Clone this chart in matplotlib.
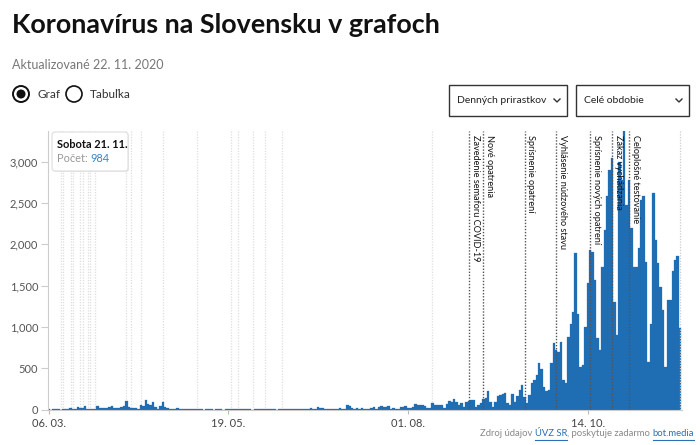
import matplotlib.pyplot as plt
import matplotlib.patches as mpatches
import pandas as pd

# ===============================
# DATA: denne prirastky (6. 3. 2020 - 21. 11. 2020)
# ===============================
marec = [1, 0, 2, 2, 2, 0, 11, 11, 11, 17, 9, 9, 25, 18, 14, 40, 8, 12, 12, 10,
         40, 23, 23, 22, 21, 27]
april = [37, 24, 21, 14, 35, 48, 100, 35, 14, 24, 14, 10, 60, 45, 117, 70, 60, 85,
         36, 4, 48, 90, 31, 20, 10, 9, 5, 13, 3, 5]
maj = [2, 6, 3, 6, 1, 2, 6, 4, 0, 3, 1, 5, 0, 1, 3, 4, 0, 1, 6, 2, 8, 11, 8, 3, 1,
       4, 1, 3, 0, 2, 3]
jun = [3, 2, 1, 11, 3, 6, 2, 0, 6, 4, 3, 1, 4, 1, 2, 6, 4, 2, 1, 4, 11, 16, 10, 5,
       30, 19, 18, 12, 7, 5]
jul = [8, 11, 4, 15, 5, 12, 53, 37, 20, 4, 13, 10, 22, 11, 4, 10, 14, 25, 6, 34,
       42, 36, 28, 38, 10, 24, 12, 8, 30, 26, 38]
august = [15, 15, 30, 63, 60, 55, 50, 45, 20, 15, 75, 55, 60, 55, 50, 15, 70, 103,
          90, 127, 95, 55, 75, 35, 87, 103, 115, 115, 35, 55, 83]
september = [127, 135, 228, 87, 34, 87, 164, 176, 184, 196, 75, 55, 184, 90, 164,
             234, 295, 150, 73, 175, 315, 356, 416, 557, 485, 275, 226, 234, 565, 800]
oktober = [720, 700, 820, 355, 315, 880, 1040, 1185, 1890, 1150, 509, 537, 1000,
           1530, 1930, 1900, 1570, 860, 720, 1730, 2175, 2578, 2900, 3040, 1305,
           900, 3000, 2780, 3365, 2475, 2780]
november = [2195, 1730, 1730, 1950, 2537, 2578, 1790, 578, 1040, 2620, 2050, 1770,
            1487, 1200, 509, 1325, 1325, 1670, 1810, 1858, 984]

pocty = marec + april + maj + jun + jul + august + september + oktober + november
dni = pd.date_range("2020-03-06", "2020-11-21", freq="D")

udalosti = ["2020-08-26", "2020-09-01", "2020-09-18", "2020-10-01",
            "2020-10-15", "2020-10-24", "2020-10-31"]
udalosti_texty = ["Zavedenie semaforu COVID-19", "Nové opatrenia",
                  "Sprísnenie opatrení", "Vyhlásenie núdzového stavu",
                  "Sprísnenie nových opatrení", "Zákaz vychádzania",
                  "Celoplošné testovanie"]
sive_udalosti = ["2020-03-11", "2020-03-12", "2020-03-15", "2020-03-16",
                 "2020-03-19", "2020-03-20", "2020-03-22", "2020-03-23",
                 "2020-03-25", "2020-04-07", "2020-04-09", "2020-04-13",
                 "2020-04-22", "2020-05-06", "2020-05-20", "2020-05-23",
                 "2020-05-29", "2020-06-03", "2020-06-10", "2020-08-11"]

ytick_hodnoty = [0, 500, 1000, 1500, 2000, 2500, 3000]
xtick_datumy = ["2020-03-06", "2020-05-19", "2020-08-01", "2020-10-14"]
xtick_texty = ["06. 03.", "19. 05.", "01. 08.", "14. 10."]

# ===============================
# STYL
# ===============================
plt.rcParams['font.family'] = ['Lato', 'DejaVu Sans']
MODRA = "#1f6db3"
SIVA = "#888888"
ODKAZ = "#2a6fb8"


def den(d):
    return (pd.Timestamp(d) - dni[0]).days


x = [(d - dni[0]).days for d in dni]

fig = plt.figure(figsize=(7, 4.45), dpi=100)

# ===============================
# GRAF
# ===============================
ax = fig.add_axes([48 / 700, (445 - 409.5) / 445, 634 / 700, 278.5 / 445])
ax.bar(x, pocty, width=1.0, color=MODRA, edgecolor=MODRA, linewidth=0.2, zorder=2)

for d in sive_udalosti:
    ax.axvline(den(d), color="#dedede", lw=0.9, ls=(0, (1, 1.2)), zorder=1)
ax.axvline(den("2020-11-21"), color="#cccccc", lw=0.9, ls=(0, (1, 1.2)), zorder=3)

for d, t in zip(udalosti, udalosti_texty):
    ax.axvline(den(d), color="#555555", lw=1, ls=(0, (1, 1.2)), zorder=3)
    ax.text(den(d) + 0.7, 0.986, t, transform=ax.get_xaxis_transform(),
            rotation=270, ha="left", va="top", fontsize=6.6, color="#111111", zorder=4)

ax.set_xlim(-0.3, 260.8)
ax.set_ylim(0, 3370)
ax.set_yticks(ytick_hodnoty)
ax.set_yticklabels([f"{v:,}" for v in ytick_hodnoty])
ax.set_xticks([den(d) for d in xtick_datumy])
ax.set_xticklabels(xtick_texty)
for s in ["top", "right"]:
    ax.spines[s].set_visible(False)
ax.spines["left"].set_color("#cccccc")
ax.spines["bottom"].set_color("#cccccc")
ax.tick_params(axis="y", length=5, color="#cccccc", labelcolor="#555555",
               labelsize=8, pad=2)
ax.tick_params(axis="x", length=3, color="#bbbbbb", labelcolor="#444444",
               labelsize=8, pad=3)

# ===============================
# HLAVICKA A OVLADANIE (v pixeloch)
# ===============================
ui = fig.add_axes([0, 0, 1, 1], zorder=5)
ui.set_xlim(0, 700)
ui.set_ylim(445, 0)
ui.axis("off")
ui.patch.set_alpha(0)

ui.text(12, 33, "Koronavírus na Slovensku v grafoch", fontsize=19.4,
        fontweight="bold", color="#111111", va="baseline")
ui.text(12, 65, "Aktualizované 22. 11. 2020", fontsize=9, color="#777777",
        va="center")

ui.add_patch(mpatches.Circle((21, 94), 8, fc="white", ec="#111111", lw=1.4))
ui.add_patch(mpatches.Circle((21, 94), 4.5, fc="#111111", ec="none"))
ui.text(37, 94, "Graf", fontsize=8.5, color="#333333", va="center")
ui.add_patch(mpatches.Circle((74, 94), 8, fc="white", ec="#111111", lw=1.2))
ui.text(90, 94, "Tabuľka", fontsize=8.5, color="#333333", va="center")

for bx, sirka, txt in [(449, 118, "Denných prirastkov"), (576, 113, "Celé obdobie")]:
    ui.add_patch(mpatches.Rectangle((bx, 85), sirka, 31, fc="white", ec="#333333", lw=1))
    ui.text(bx + 8, 100.5, txt, fontsize=7.5, color="#222222", va="center")
    cx = bx + sirka - 10
    ui.plot([cx - 3, cx, cx + 3], [99, 102, 99], color="#333333", lw=1)

# tooltip
ui.add_patch(mpatches.FancyBboxPatch((53, 133), 76, 39, boxstyle="round,pad=0,rounding_size=3",
                                     fc="#000000", ec="none", alpha=0.08))
ui.add_patch(mpatches.FancyBboxPatch((52, 132), 76, 39, boxstyle="round,pad=0,rounding_size=3",
                                     fc="white", ec="#dddddd", lw=0.8))
ui.text(57, 145, "Sobota 21. 11.", fontsize=7.9, fontweight="bold", color="#111111",
        va="center")


def radek(casti, x0, y, size, zarovnat="left"):
    r = fig.canvas.get_renderer()
    texty = [ui.text(0, y, s, color=c, fontsize=size, va="center") for s, c, _ in casti]
    sirky = [t.get_window_extent(r).width for t in texty]
    if zarovnat == "right":
        x0 = x0 - sum(sirky)
    for t, w, (s, c, podciarknut) in zip(texty, sirky, casti):
        t.set_x(x0)
        if podciarknut:
            ui.plot([x0, x0 + w], [y + 6, y + 6], color=c, lw=0.8)
        x0 += w


radek([("Počet: ", "#999999", False), ("984", "#3b83c0", False)], 57, 159, 7.9)
radek([("Zdroj údajov ", SIVA, False), ("ÚVZ SR", ODKAZ, True),
       (", poskytuje zadarmo ", SIVA, False), ("bot.media", ODKAZ, True)],
      694, 434, 6.8, zarovnat="right")

fig.savefig("out.png", dpi=100)
